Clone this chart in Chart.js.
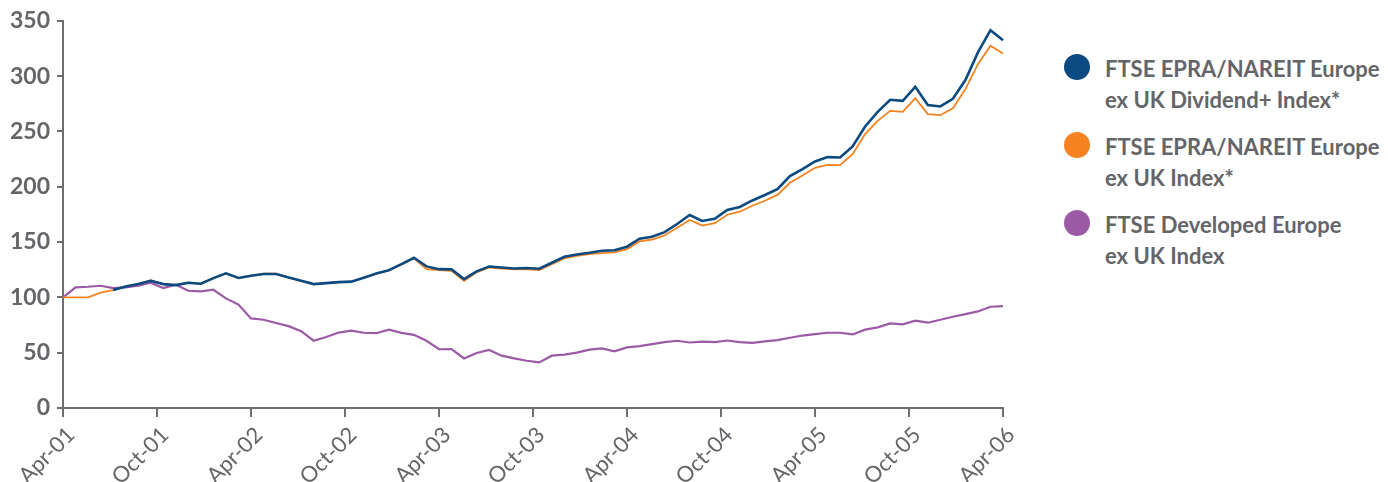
<!DOCTYPE html>
<html>
<head>
<meta charset="utf-8">
<script src="https://cdn.jsdelivr.net/npm/chart.js@4.4.0/dist/chart.umd.min.js"></script>
<style>
body { margin: 0; background: #fff; }
#wrap { position: relative; width: 1388px; height: 482px; }
#box { position: absolute; left: 0; top: 0; width: 1030px; height: 482px; }
#legend { position: absolute; left: 1064px; top: 53px; font-family: Lato, sans-serif; font-weight: bold; font-size: 22px; color: #646569; }
.item { position: relative; padding-left: 41px; line-height: 31px; height: 78px; }
.dot { position: absolute; left: 0; top: 1px; width: 26px; height: 26px; border-radius: 50%; }
</style>
</head>
<body>
<div id="wrap">
  <div id="box"><canvas id="myChart"></canvas></div>
  <div id="legend"></div>
</div>
<script>
// x tick labels, one every six months
const tickLabels = ['Apr-01', 'Oct-01', 'Apr-02', 'Oct-02', 'Apr-03', 'Oct-03', 'Apr-04', 'Oct-04', 'Apr-05', 'Oct-05', 'Apr-06'];

const seriesNames = [
    ['FTSE EPRA/NAREIT Europe', 'ex UK Dividend+ Index*'],
    ['FTSE EPRA/NAREIT Europe', 'ex UK Index*'],
    ['FTSE Developed Europe', 'ex UK Index']
];
const seriesColors = ['#0a4a80', '#f5821f', '#9b59a6'];

// rebased to 100 (76 points from Apr-01 to Apr-06)
const dividendPlus = [null, null, null, null,
    106.6, 109.9, 112, 115, 112, 111.1, 113.2, 112.3, 117.4, 121.7,
    117.5, 119.5, 121.1, 121.1, 118, 115, 112, 112.9, 113.8, 114.2,
    117.8, 121.5, 124.5, 130, 135.8, 128, 125.5, 125.3, 116.5, 123.5,
    127.9, 127, 126.1, 126.5, 125.9, 131.3, 136.7, 138.8, 140.3, 142.1,
    142.6, 145.8, 153.1, 154.8, 159, 166.3, 174.5, 169.1, 171, 179,
    181.7, 187.6, 192.5, 197.8, 209.7, 216, 222.9, 226.8, 226.5, 236.4,
    254.5, 267.7, 278.6, 277.7, 290.3, 273.8, 272.6, 279.5, 296.4, 321.4,
    341.5, 332.5];

const epraIndex = [100, 100, 100, 104.3,
    106.6, 109.9, 112, 115.5, 112, 111.1, 113.2, 112.3, 117.4, 121.7,
    117.5, 119.5, 121.5, 121.5, 118, 115, 112, 112.9, 113.8, 114.2,
    117.8, 121.5, 124.5, 129.6, 135.2, 125.5, 124.6, 124, 115, 122.6,
    127, 126.1, 125.3, 125.3, 124.6, 130, 135.2, 137.6, 139.1, 140,
    140.6, 143.6, 150.6, 152.3, 156, 163, 170, 164.9, 167.1, 174.7,
    177.4, 182.8, 187.3, 192.6, 203.6, 210.2, 217.1, 219.8, 219.5, 229.5,
    247.6, 259.6, 268.6, 267.7, 280.1, 265.6, 264.7, 271, 288.2, 310.8,
    327.4, 320.4];

const developedEurope = [100, 109, 109.6, 110.5,
    108.4, 109, 110.5, 113.2, 108.4, 111.4, 106, 105.4, 106.9, 99.1,
    93.5, 81, 79.8, 76.8, 74, 69.4, 60.8, 64.2, 68.2, 69.9,
    68, 67.6, 70.8, 67.9, 66.1, 60.8, 53.1, 53.3, 44.8, 49.7,
    52.4, 47.3, 44.8, 42.7, 41.2, 47.3, 48.2, 50, 52.7, 53.9,
    51.2, 54.8, 56, 57.8, 59.6, 60.8, 59.2, 60, 59.6, 61,
    59.5, 58.9, 60.2, 61.4, 63.5, 65.5, 66.8, 68, 68, 66.5,
    70.8, 72.9, 76.5, 75.6, 78.9, 77.1, 79.8, 82.5, 84.9, 87.3,
    91.5, 92.1];

const seriesData = [dividendPlus, epraIndex, developedEurope];
const seriesWidths = [2.6, 1.8, 2.2];

// point numbers for the category axis
const points = developedEurope.map((v, i) => i);

const axisGrey = '#6d6e71';
const textGrey = '#646569';

// legend as html
var lg = document.getElementById('legend');
for (var i = 0; i < seriesNames.length; i++) {
    var it = document.createElement('div');
    it.className = 'item';
    it.innerHTML = '<span class="dot" style="background:' + seriesColors[i] + '"></span>' + seriesNames[i].join('<br>');
    lg.appendChild(it);
}

const datasets = seriesData.map(function (d, i) {
    return {
        label: seriesNames[i].join(' '),
        data: d,
        borderColor: seriesColors[i],
        backgroundColor: seriesColors[i],
        borderWidth: seriesWidths[i],
        pointRadius: 0,
        tension: 0,
        xAxisID: 'x',
        yAxisID: 'y'
    };
});

const ctx = document.getElementById('myChart').getContext('2d');
const config = {
    type: 'line',
    data: { labels: points, datasets: datasets },
    options: {
        responsive: true,
        maintainAspectRatio: false,
        animation: false,
        layout: { padding: { top: 20, right: 27, left: 0, bottom: 0 } },
        plugins: { legend: { display: false }, tooltip: { enabled: false } },
        scales: {
            x: {
                type: 'category',
                display: false
            },
            xt: {
                type: 'linear',
                position: 'bottom',
                min: 0,
                max: 60,
                afterFit: function (s) { s.height = 74; },
                ticks: {
                    stepSize: 6,
                    minRotation: 45,
                    maxRotation: 45,
                    padding: 5,
                    labelOffset: 8,
                    color: textGrey,
                    font: { family: 'Lato', size: 22 },
                    callback: function (v) { return tickLabels[v / 6]; }
                },
                grid: { drawOnChartArea: false, drawTicks: true, tickLength: 9, color: axisGrey, lineWidth: 2 },
                border: { display: true, color: axisGrey, width: 2 }
            },
            y: {
                min: 0,
                max: 350,
                afterFit: function (s) { s.width = 63; },
                ticks: {
                    stepSize: 50,
                    padding: 7,
                    color: textGrey,
                    font: { family: 'Lato', size: 23, weight: 'bold' }
                },
                grid: { drawOnChartArea: false, drawTicks: true, tickLength: 6, color: axisGrey, lineWidth: 2 },
                border: { display: true, color: axisGrey, width: 2 }
            }
        }
    }
};
const myChart = new Chart(ctx, config);
</script>
</body>
</html>
